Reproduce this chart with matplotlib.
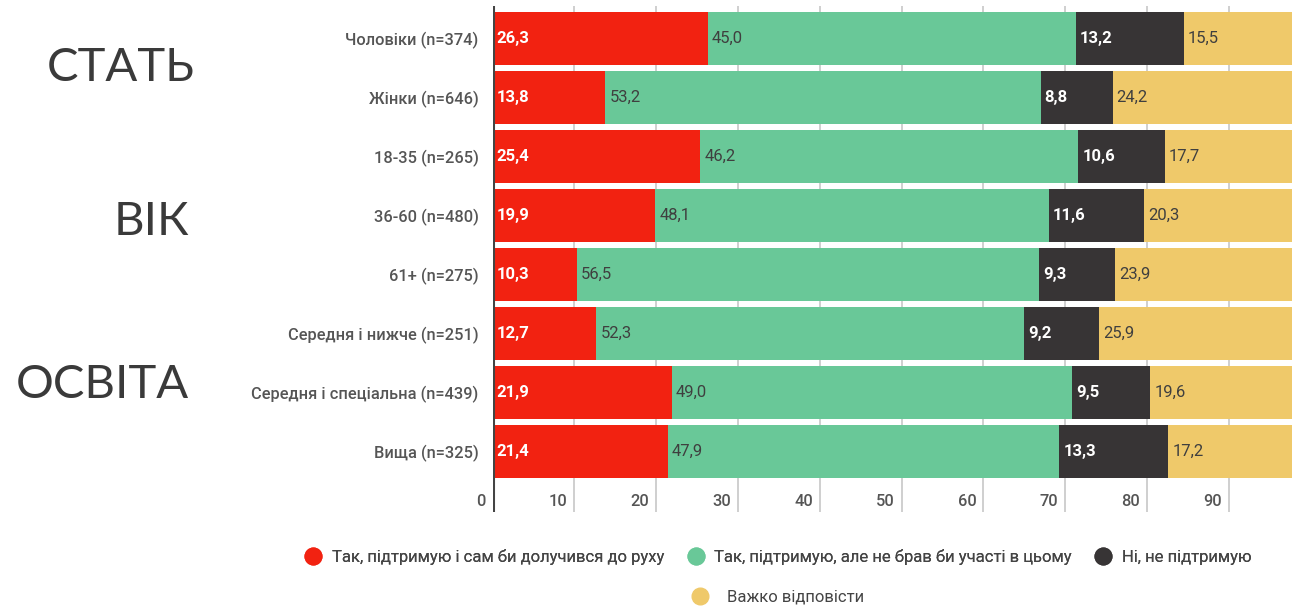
import matplotlib
matplotlib.use("Agg")
import matplotlib.pyplot as plt
from matplotlib.lines import Line2D
import matplotlib.transforms as mtransforms

categories = ["Чоловіки (n=374)", "Жінки (n=646)", "18-35 (n=265)", "36-60 (n=480)",
              "61+ (n=275)", "Середня і нижче (n=251)", "Середня і спеціальна (n=439)",
              "Вища (n=325)"]
support_join = [26.3, 13.8, 25.4, 19.9, 10.3, 12.7, 21.9, 21.4]
support_passive = [45.0, 53.2, 46.2, 48.1, 56.5, 52.3, 49.0, 47.9]
not_support = [13.2, 8.8, 10.6, 11.6, 9.3, 9.2, 9.5, 13.3]
hard_to_say = [15.5, 24.2, 17.7, 20.3, 23.9, 25.9, 19.6, 17.2]
series_names = ["Так, підтримую і сам би долучився до руху",
                "Так, підтримую, але не брав би участі в цьому",
                "Ні, не підтримую",
                "Важко відповісти"]
ticks = [0, 10, 20, 30, 40, 50, 60, 70, 80, 90]
groups = ["СТАТЬ", "ВІК", "ОСВІТА"]

colors = ["#F22211", "#69C898", "#373435", "#EFC96A"]
label_colors = ["white", "#3f3f3f", "white", "#3f3f3f"]
label_weights = ["bold", "normal", "bold", "normal"]

plt.rcParams['font.family'] = ['Roboto', 'DejaVu Sans']

W, H = 1292, 607
fig = plt.figure(figsize=(W / 100, H / 100), dpi=100)
ax_left, ax_right = 492.5, 1292
ax_top, ax_bot = 6, 512
ax = fig.add_axes([ax_left / W, 1 - ax_bot / H, (ax_right - ax_left) / W, (ax_bot - ax_top) / H])

row_px = 59.0
c0 = 38.7
ax.set_ylim((ax_bot - c0) / row_px, -(c0 - ax_top) / row_px)
ax.set_xlim(0, (ax_right - ax_left) / 8.18)

ypos = list(range(len(categories)))
series = [support_join, support_passive, not_support, hard_to_say]
left = [0.0] * len(categories)
for s, vals in enumerate(series):
    ax.barh(ypos, vals, left=left, height=0.9, color=colors[s], zorder=3, linewidth=0)
    for i, v in enumerate(vals):
        ax.annotate(f"{v:.1f}".replace(".", ","), xy=(left[i], i), xytext=(3, 0),
                    textcoords="offset points", ha="left", va="center",
                    fontsize=12, color=label_colors[s], fontweight=label_weights[s], zorder=4)
    left = [l + v for l, v in zip(left, vals)]

# gridlines
for t in ticks[1:]:
    ax.axvline(t, color="#cccccc", lw=1.3, zorder=1)
ax.axvline(0, color="#444444", lw=2.2, zorder=5)

for sp in ax.spines.values():
    sp.set_visible(False)
ax.set_xticks([])
ax.set_yticks(ypos)
ax.set_yticklabels(categories, fontsize=11.8, color="#555555", fontweight="medium")
ax.tick_params(axis="y", length=0, pad=10)

trans = mtransforms.blended_transform_factory(ax.transData, ax.transAxes)
for t in ticks:
    ax.annotate(str(t), xy=(t, (ax_bot - 502) / (ax_bot - ax_top)), xycoords=trans,
                xytext=(-5, 0), textcoords="offset points", ha="right", va="center",
                fontsize=11.8, color="#555555", fontweight="medium")

# group labels
group_pos = [(195, 68), (189, 222), (189, 385)]
for g, (x, y) in zip(groups, group_pos):
    fig.text(x / W, 1 - y / H, g, ha="right", va="center", fontsize=34,
             color="#3a3a3a", family=["Lato", "DejaVu Sans"], fontweight="normal")

handles = [Line2D([], [], marker="o", linestyle="none", markersize=12,
                  markerfacecolor=c, markeredgecolor=c) for c in colors]
leg1 = fig.legend(handles[:3], series_names[:3], loc="center", ncol=3,
                  bbox_to_anchor=(774 / W, 1 - 557 / H), frameon=False,
                  fontsize=12, handletextpad=0.1, columnspacing=0.9, labelcolor="#444444")
fig.add_artist(leg1)
leg2 = fig.legend(handles[3:], series_names[3:], loc="center", ncol=1,
                  bbox_to_anchor=(774 / W, 1 - 597 / H), frameon=False,
                  fontsize=12, handletextpad=0.6, labelcolor="#444444")

fig.savefig("out.png", dpi=100)
